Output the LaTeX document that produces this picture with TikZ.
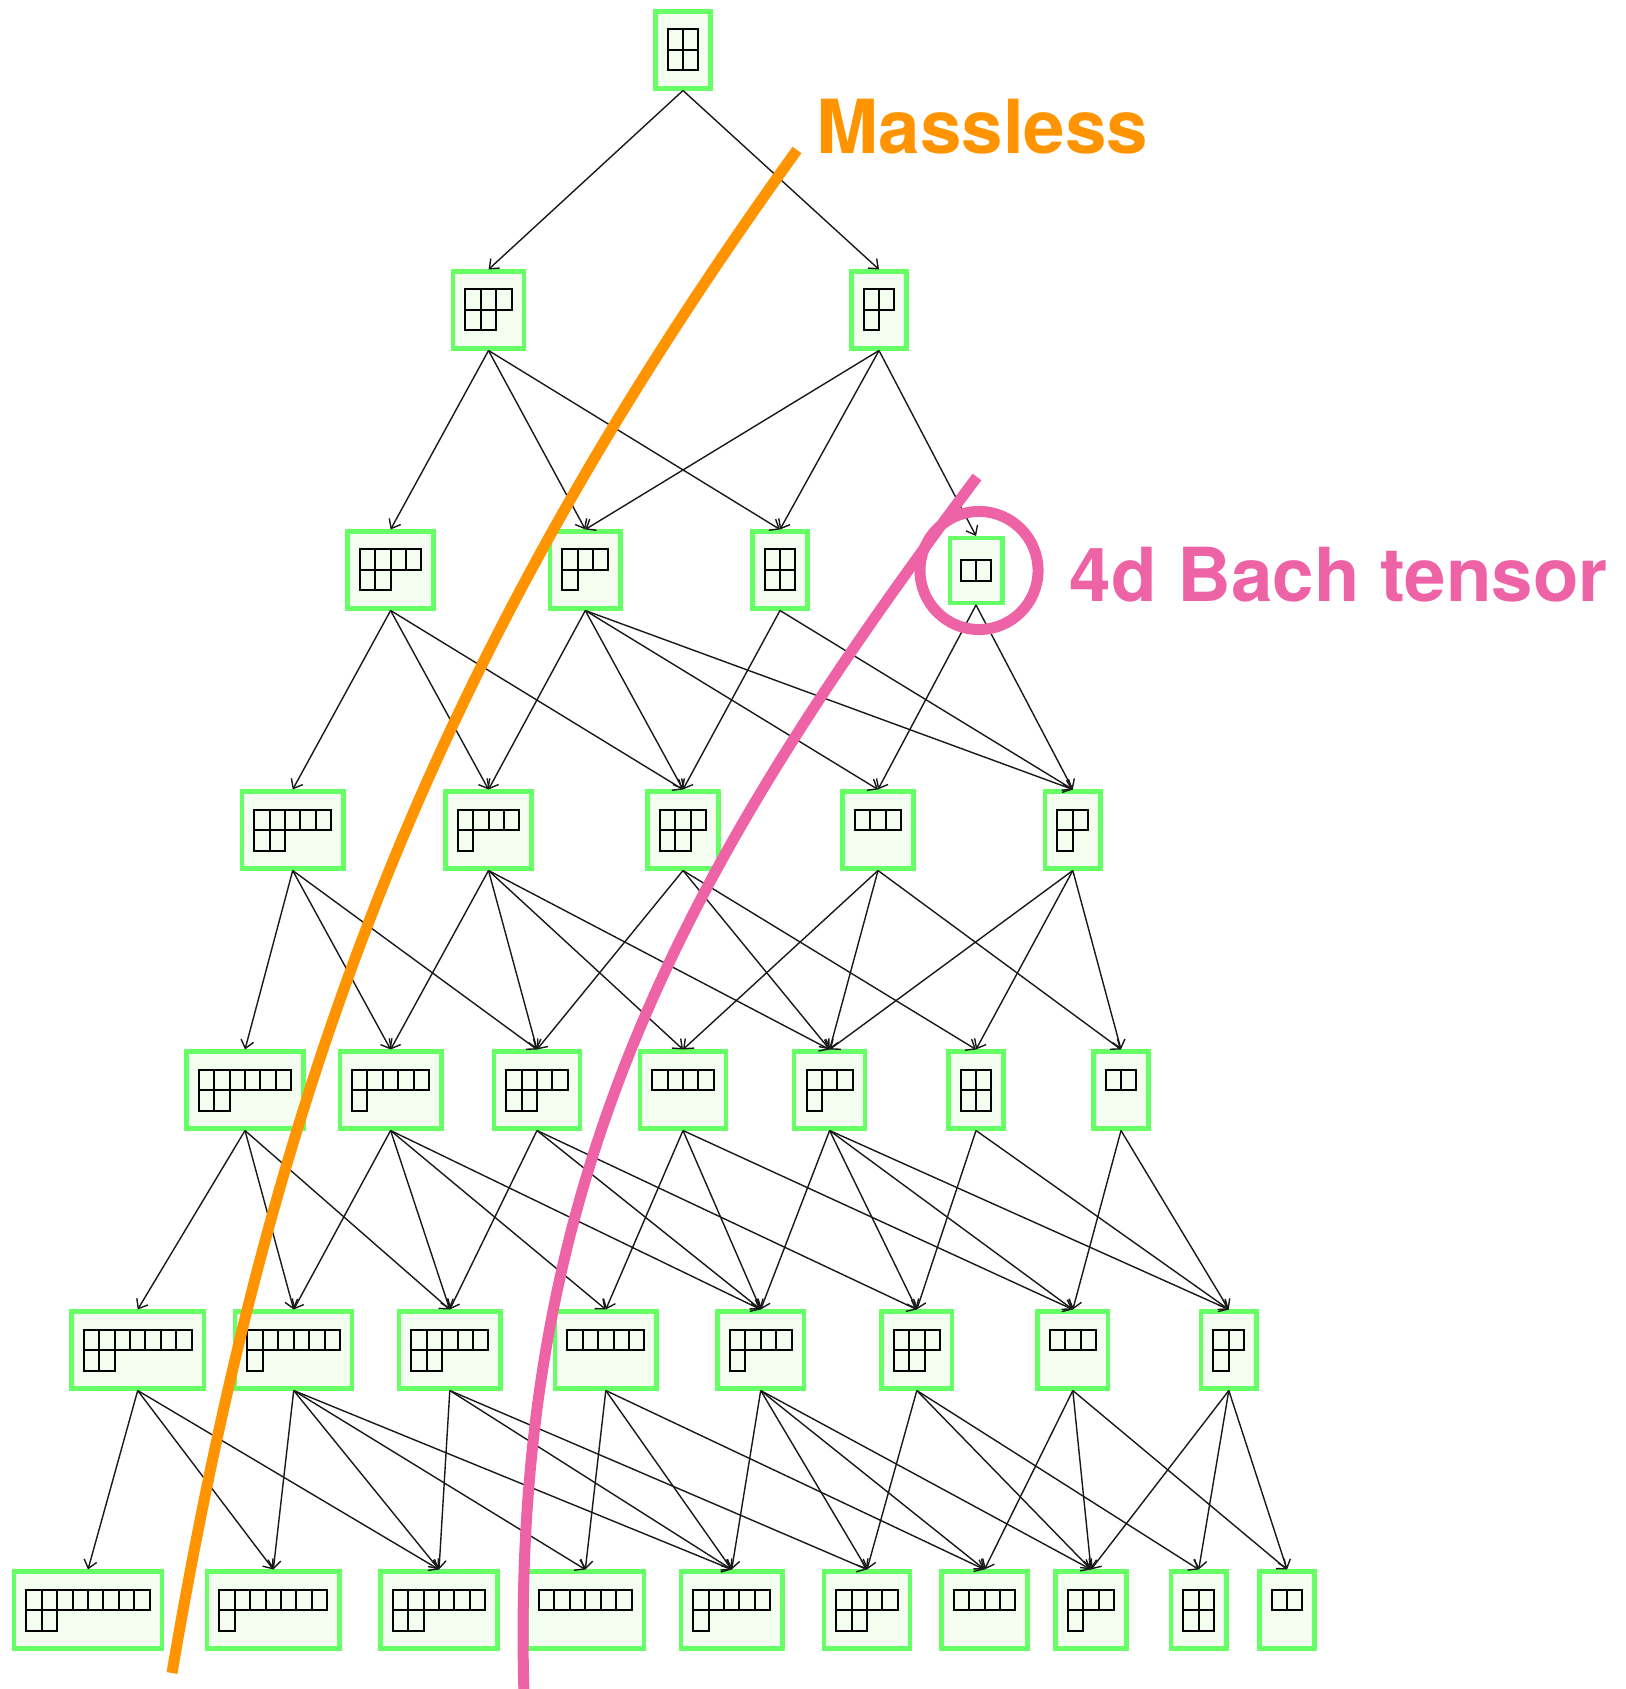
\documentclass[tikz,border=0pt]{standalone}
\usepackage{fontspec}
\newfontfamily\labelfont{TeX Gyre Heros}
\usepackage{tikz}
\usetikzlibrary{arrows.meta}

\definecolor{boxgreen}{RGB}{102,255,102}
\definecolor{boxfill}{RGB}{243,253,240}
\definecolor{masslessorange}{RGB}{255,148,0}
\definecolor{bachpink}{RGB}{238,99,165}

% Young diagram in a node: [top offset]{node}{first row}{second row}
\newcommand{\yd}[4][20.5]{%
  \foreach \i in {1,...,#3}
    \draw[cell] ([xshift={(\i-1-#3/2)*0.154cm}, yshift={#1*0.01cm}]#2.center) rectangle ++(15.4,-20.5);
  \ifnum#4>0\relax
    \foreach \i in {1,...,#4}
      \draw[cell] ([xshift={(\i-1-#3/2)*0.154cm}, yshift={(#1-20.5)*0.01cm}]#2.center) rectangle ++(15.4,-20.5);
  \fi
}

\begin{document}
\begin{tikzpicture}[x=0.01cm, y=0.01cm,
                box/.style={draw=boxgreen, fill=boxfill, line width=0.045cm, inner sep=0pt,
                            minimum width={(0.154*#1+0.245)*1cm}, minimum height=0.765cm},
                cell/.style={draw=black, line width=0.02cm},
                link/.style={draw=black!90, line width=0.014cm, -{Straight Barb[length=0.08cm, width=0.13cm]}},
                tag/.style={anchor=base west, inner sep=0pt, font=\labelfont\bfseries\fontsize{21.2pt}{25pt}\selectfont}]
    \useasboundingbox (0,0) rectangle (1625,-1689);

    % nodes: name / x / row / first row / second row
    \foreach \nm/\x/\r/\a/\b in {r0-22/683/0/2/2,
                                 r1-32/488.5/1/3/2, r1-21/879/1/2/1,
                                 r2-42/390.6/2/4/2, r2-31/585.3/2/3/1, r2-22/780/2/2/2,
                                 r3-52/292.7/3/5/2, r3-41/488.5/3/4/1, r3-32/683/3/3/2, r3-3/878/3/3/0, r3-21/1072.8/3/2/1,
                                 r4-62/245/4/6/2, r4-51/390.6/4/5/1, r4-42/537/4/4/2, r4-4/683/4/4/0,
                                 r4-31/829.6/4/3/1, r4-22/976/4/2/2, r4-2/1121/4/2/0,
                                 r5-72/137.7/5/7/2, r5-61/293.7/5/6/1, r5-52/449.8/5/5/2, r5-5/605.8/5/5/0,
                                 r5-41/760.7/5/4/1, r5-32/916.8/5/3/2, r5-3/1072.8/5/3/0, r5-21/1228.8/5/2/1,
                                 r6-82/88/6/8/2, r6-71/273.3/6/7/1, r6-62/439/6/6/2, r6-6/585.3/6/6/0, r6-51/731.7/6/5/1,
                                 r6-42/867/6/4/2, r6-4/984.5/6/4/0, r6-31/1091/6/3/1, r6-22/1198.7/6/2/2, r6-2/1287/6/2/0}
    {
        \node[box=\a] (\nm) at (\x,{-50-260*\r}) {};
        \yd{\nm}{\a}{\b}
    }
    \node[box=2, minimum height=0.645cm, minimum width=0.525cm] (r2-2) at (976,-570.5) {};
    \yd[10.25]{r2-2}{2}{0}

    % arrows
    \foreach \s/\t in {r0-22/r1-32, r0-22/r1-21,
                       r1-32/r2-42, r1-32/r2-31, r1-32/r2-22,
                       r1-21/r2-31, r1-21/r2-22, r1-21/r2-2,
                       r2-42/r3-52, r2-42/r3-41, r2-42/r3-32,
                       r2-31/r3-41, r2-31/r3-32, r2-31/r3-3, r2-31/r3-21,
                       r2-22/r3-32, r2-22/r3-21,
                       r2-2/r3-3, r2-2/r3-21,
                       r3-52/r4-62, r3-52/r4-51, r3-52/r4-42,
                       r3-41/r4-51, r3-41/r4-42, r3-41/r4-4, r3-41/r4-31,
                       r3-32/r4-42, r3-32/r4-31, r3-32/r4-22,
                       r3-3/r4-4, r3-3/r4-31, r3-3/r4-2,
                       r3-21/r4-31, r3-21/r4-22, r3-21/r4-2,
                       r4-62/r5-72, r4-62/r5-61, r4-62/r5-52,
                       r4-51/r5-61, r4-51/r5-52, r4-51/r5-5, r4-51/r5-41,
                       r4-42/r5-52, r4-42/r5-41, r4-42/r5-32,
                       r4-4/r5-5, r4-4/r5-41, r4-4/r5-3,
                       r4-31/r5-41, r4-31/r5-32, r4-31/r5-3, r4-31/r5-21,
                       r4-22/r5-32, r4-22/r5-21,
                       r4-2/r5-3, r4-2/r5-21,
                       r5-72/r6-82, r5-72/r6-71, r5-72/r6-62,
                       r5-61/r6-71, r5-61/r6-62, r5-61/r6-6, r5-61/r6-51,
                       r5-52/r6-62, r5-52/r6-51, r5-52/r6-42,
                       r5-5/r6-6, r5-5/r6-51, r5-5/r6-4,
                       r5-41/r6-51, r5-41/r6-42, r5-41/r6-4, r5-41/r6-31,
                       r5-32/r6-42, r5-32/r6-31, r5-32/r6-22,
                       r5-3/r6-4, r5-3/r6-31, r5-3/r6-2,
                       r5-21/r6-31, r5-21/r6-22, r5-21/r6-2}
        \draw[link] (\s.south) -- (\t.north);

    % massless line
    \draw[masslessorange, line width=0.11cm] (797,-150) .. controls (437,-650) and (274,-1073) .. (172,-1673);
    \node[tag, text=masslessorange] (massless) at (816,-154) {Massless};

    % bach tensor
    \draw[bachpink, line width=0.11cm] (977,-477) .. controls (677,-877) and (509,-1189) .. (524,-1695);
    \draw[bachpink, line width=0.11cm] ([xshift=0.03cm]r2-2.center) ellipse [x radius=0.59cm, y radius=0.59cm];
    \node[tag, text=bachpink] (bach) at (1069,-601) {4d Bach tensor};
\end{tikzpicture}
\end{document}
